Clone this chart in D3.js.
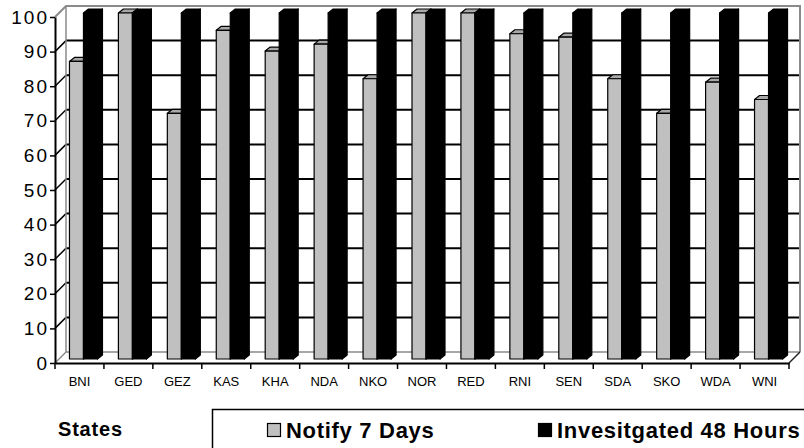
<!DOCTYPE html>
<html>
<head>
<meta charset="utf-8">
<script src="https://cdn.jsdelivr.net/npm/d3@7"></script>
<style>
  html, body { margin: 0; padding: 0; background: #fff; }
  svg { display: block; }
  svg text { font-family: "Liberation Sans", Arial, sans-serif; }
</style>
</head>
<body>
<svg id="chart" width="804" height="448"></svg>
<script>
// Reporting performance by state
const categories = ["BNI", "GED", "GEZ", "KAS", "KHA", "NDA", "NKO", "NOR", "RED", "RNI", "SEN", "SDA", "SKO", "WDA", "WNI"];
const notify7Days = [86, 100, 71, 95, 89, 91, 81, 100, 100, 94, 93, 81, 71, 80, 75];
const investigated48Hours = [100, 100, 100, 100, 100, 100, 100, 100, 100, 100, 100, 100, 100, 100, 100];
const seriesNames = ["Notify 7 Days", "Invesitgated 48 Hours"];
const yTicks = [0, 10, 20, 30, 40, 50, 60, 70, 80, 90, 100];
const xTitle = "States";

const svg = d3.select("#chart");

// Front plane scales; the back wall is offset by the depth vector.
const x = d3.scaleBand().domain(categories).range([55, 789]);
const y = d3.scaleLinear().domain([0, 100]).range([363, 17]);
const depth = { dx: 11, dy: -11 };
const barShift = { dx: 4, dy: -4 };   // bars sit a little behind the front plane
const barDepth = { dx: 5, dy: -4 };
const barW = 14;
const inner = d3.scaleBand().domain([0, 1]).range([0, barW * 2]);

const [x0, x1] = x.range();
const bx0 = x0 + depth.dx, bx1 = x1 + depth.dx;
const by = v => y(v) + depth.dy;

// Back wall and side wall grid lines
const grid = svg.append("g");
grid.selectAll("line.back").data(yTicks.filter(t => t > 0 && t < 100)).join("line")
  .attr("x1", bx0).attr("x2", bx1)
  .attr("y1", d => by(d)).attr("y2", d => by(d))
  .attr("stroke", "#000").attr("stroke-width", 2);
grid.selectAll("line.side").data(yTicks.filter(t => t > 0 && t < 100)).join("line")
  .attr("x1", x0).attr("x2", bx0)
  .attr("y1", d => y(d)).attr("y2", d => by(d))
  .attr("stroke", "#000").attr("stroke-width", 1.5);

// Wall and floor edges
const edge = "#8a8a8a";
grid.append("path")
  .attr("d", `M${x0},${y(100)}L${bx0},${by(100)}L${bx1},${by(100)}L${bx1},${by(0)}`)
  .attr("fill", "none").attr("stroke", edge).attr("stroke-width", 2);
grid.append("path")
  .attr("d", `M${bx0},${by(100)}L${bx0},${by(0)}L${bx1},${by(0)}`)
  .attr("fill", "none").attr("stroke", edge).attr("stroke-width", 1.5);
grid.append("path")
  .attr("d", `M${x0},${y(0)}L${bx0},${by(0)}`)
  .attr("fill", "none").attr("stroke", edge).attr("stroke-width", 1.5);
grid.append("path")
  .attr("d", `M${x1},${y(0)}L${bx1},${by(0)}`)
  .attr("fill", "none").attr("stroke", "#222").attr("stroke-width", 1.5);

// 3D columns
const series = [
  { name: seriesNames[0], values: notify7Days, front: "#c0c0c0", top: "#a8a8a8", side: "#808080" },
  { name: seriesNames[1], values: investigated48Hours, front: "#000", top: "#000", side: "#000" }
];
const bars = svg.append("g");
categories.forEach((c, i) => {
  series.forEach((s, k) => {
    const v = s.values[i];
    const left = x(c) + barShift.dx + (x.bandwidth() - barW * 2) / 2 + inner(k);
    const right = left + barW;
    const top = y(v) + barShift.dy;
    const base = y(0) + barShift.dy;
    const g = bars.append("g").attr("stroke", "#000").attr("stroke-width", 1.2).attr("stroke-linejoin", "round");
    g.append("path")
      .attr("d", `M${right},${top}L${right + barDepth.dx},${top + barDepth.dy}L${right + barDepth.dx},${base + barDepth.dy}L${right},${base}Z`)
      .attr("fill", s.side);
    g.append("path")
      .attr("d", `M${left},${top}L${left + barDepth.dx},${top + barDepth.dy}L${right + barDepth.dx},${top + barDepth.dy}L${right},${top}Z`)
      .attr("fill", s.top);
    g.append("rect")
      .attr("x", left).attr("y", top)
      .attr("width", barW).attr("height", base - top)
      .attr("fill", s.front);
  });
});

// Value axis
const yAxis = svg.append("g")
  .attr("transform", `translate(${x0},0)`)
  .call(d3.axisLeft(y).tickValues(yTicks).tickSize(5).tickSizeOuter(0).tickPadding(1));
yAxis.attr("font-family", null);
yAxis.select(".domain").attr("stroke", "#000").attr("stroke-width", 2);
yAxis.selectAll(".tick line").attr("stroke", "#000").attr("stroke-width", 1.5);
yAxis.selectAll(".tick text")
  .attr("fill", "#000").attr("font-size", 19).attr("letter-spacing", 2);

// Category axis
const xAxis = svg.append("g")
  .attr("transform", `translate(0,${y(0)})`)
  .call(d3.axisBottom(x).tickSize(0).tickPadding(14).tickSizeOuter(0));
xAxis.attr("font-family", null);
xAxis.select(".domain").attr("stroke", "#000").attr("stroke-width", 2);
xAxis.selectAll(".tick text")
  .attr("fill", "#000").attr("font-size", 13);
const bounds = categories.map(c => x(c)).concat([x1]);
svg.append("g").selectAll("line").data(bounds).join("line")
  .attr("x1", d => d).attr("x2", d => d)
  .attr("y1", y(0)).attr("y2", y(0) + 6)
  .attr("stroke", "#000").attr("stroke-width", 1.5);

// Axis title
svg.append("text")
  .attr("x", 58).attr("y", 436)
  .attr("font-size", 20).attr("font-weight", "bold").attr("letter-spacing", 0.8)
  .text(xTitle);

// Legend
const legend = svg.append("g");
legend.append("rect")
  .attr("x", 212.5).attr("y", 409.5).attr("width", 700).attr("height", 100)
  .attr("fill", "#fff").attr("stroke", "#000").attr("stroke-width", 1.5);
const legendX = [267, 538];
series.forEach((s, k) => {
  legend.append("rect")
    .attr("x", legendX[k] + 0.5).attr("y", 423.5).attr("width", 13).attr("height", 13)
    .attr("fill", s.front).attr("stroke", "#000").attr("stroke-width", 1.2);
  legend.append("text")
    .attr("x", legendX[k] + 19).attr("y", 437.5)
    .attr("font-size", 22).attr("font-weight", "bold").attr("letter-spacing", 0.7)
    .text(s.name);
});
</script>
</body>
</html>
